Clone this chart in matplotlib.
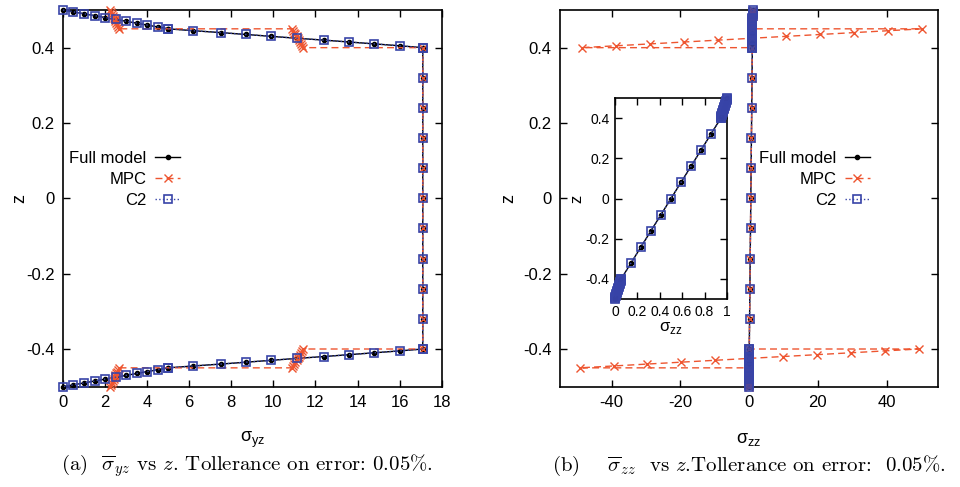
import matplotlib.pyplot as plt

plt.rcParams['font.family'] = ['Liberation Sans', 'DejaVu Sans']
plt.rcParams['axes.unicode_minus'] = False

# z positions of the nodes, layer by layer (top sublayers, core, bottom sublayers)
z_top1 = [0.5, 0.495, 0.49, 0.485, 0.48, 0.475, 0.47, 0.465, 0.46, 0.455, 0.45]
z_top2 = [0.45, 0.445, 0.44, 0.435, 0.43, 0.425, 0.42, 0.415, 0.41, 0.405, 0.4]
z_mid = [0.4, 0.32, 0.24, 0.16, 0.08, 0.0, -0.08, -0.16, -0.24, -0.32, -0.4]
z_bot2 = [-0.4, -0.405, -0.41, -0.415, -0.42, -0.425, -0.43, -0.435, -0.44, -0.445, -0.45]
z_bot1 = [-0.45, -0.455, -0.46, -0.465, -0.47, -0.475, -0.48, -0.485, -0.49, -0.495, -0.5]
z = z_top1 + z_top2 + z_mid + z_bot2 + z_bot1

# sigma_yz
syz_full = ([0.0, 0.5, 1.0, 1.5, 2.0, 2.5, 3.0, 3.5, 4.0, 4.5, 5.0]
            + [5.0, 6.2, 7.5, 8.7, 9.9, 11.1, 12.4, 13.6, 14.8, 16.0, 17.1]
            + [17.1] * 11
            + [17.1, 16.0, 14.8, 13.6, 12.4, 11.1, 9.9, 8.7, 7.5, 6.2, 5.0]
            + [5.0, 4.5, 4.0, 3.5, 3.0, 2.5, 2.0, 1.5, 1.0, 0.5, 0.0])
syz_mpc = ([2.25, 2.29, 2.33, 2.37, 2.41, 2.45, 2.49, 2.53, 2.57, 2.61, 2.65]
           + [10.9, 10.95, 11.0, 11.05, 11.1, 11.15, 11.2, 11.25, 11.3, 11.35, 11.4]
           + [17.1] * 11
           + [11.4, 11.35, 11.3, 11.25, 11.2, 11.15, 11.1, 11.05, 11.0, 10.95, 10.9]
           + [2.65, 2.61, 2.57, 2.53, 2.49, 2.45, 2.41, 2.37, 2.33, 2.29, 2.25])
syz_c2 = list(syz_full)

# sigma_zz
szz_full = ([1.0, 0.998, 0.996, 0.993, 0.99, 0.987, 0.984, 0.981, 0.978, 0.975, 0.972]
            + [0.972, 0.97, 0.967, 0.964, 0.961, 0.958, 0.955, 0.952, 0.95, 0.947, 0.945]
            + [0.945, 0.856, 0.767, 0.678, 0.589, 0.5, 0.411, 0.322, 0.233, 0.144, 0.055]
            + [0.055, 0.053, 0.05, 0.048, 0.045, 0.042, 0.039, 0.036, 0.033, 0.03, 0.028]
            + [0.028, 0.025, 0.022, 0.019, 0.016, 0.013, 0.01, 0.007, 0.004, 0.002, 0.0])
szz_mpc = ([1.0, 0.998, 0.996, 0.993, 0.99, 0.987, 0.984, 0.981, 0.978, 0.975, 0.972]
           + [50.4, 40.5, 30.6, 20.7, 10.8, 0.9, -9.0, -18.9, -28.8, -38.7, -48.6]
           + [0.945, 0.856, 0.767, 0.678, 0.589, 0.5, 0.411, 0.322, 0.233, 0.144, 0.055]
           + [49.3, 39.5, 29.6, 19.7, 9.8, -0.1, -10.0, -19.9, -29.7, -39.4, -49.2]
           + [0.028, 0.025, 0.022, 0.019, 0.016, 0.013, 0.01, 0.007, 0.004, 0.002, 0.0])
szz_c2 = list(szz_full)

labels = ['Full model', 'MPC', 'C2']
z_ticks = [-0.4, -0.2, 0, 0.2, 0.4]
z_ticklabels = ['-0.4', '-0.2', '0', '0.2', '0.4']
syz_ticks = [0, 2, 4, 6, 8, 10, 12, 14, 16, 18]
szz_ticks = [-40, -20, 0, 20, 40]
inset_ticks = [0, 0.2, 0.4, 0.6, 0.8, 1]
inset_ticklabels = ['0', '0.2', '0.4', '0.6', '0.8', '1']

RED = '#ee5530'
BLUE = '#3844a8'

full_kw = dict(color='black', lw=1.0, marker='o', ms=3, zorder=3, clip_on=False)
mpc_kw = dict(color=RED, lw=1.0, dashes=(5, 3), marker='x', ms=5.5, mew=1.0, zorder=4, clip_on=False)
c2_kw = dict(color=BLUE, lw=1.0, ls=':', marker='s', ms=6, mew=1.2, mfc='none',
             zorder=5, clip_on=False)


def style_axes(ax, size=12, pad=6):
    for s in ax.spines.values():
        s.set_linewidth(1.2)
    ax.tick_params(direction='in', top=True, right=True, length=5, width=1,
                   labelsize=size, pad=pad)


def right_align(leg):
    # gnuplot style key: text right-aligned against the sample
    for col in leg._legend_handle_box.get_children():
        col.align = 'right'


fig = plt.figure(figsize=(9.6, 4.87), dpi=100)
ax1 = fig.add_axes([0.0656, 0.206, 0.3945, 0.7735])
ax2 = fig.add_axes([0.5833, 0.206, 0.394, 0.7735])
axin = fig.add_axes([0.6406, 0.386, 0.1167, 0.4127])

# (a) sigma_yz
ax1.plot(syz_full, z, label=labels[0], **full_kw)
ax1.plot(syz_mpc, z, label=labels[1], **mpc_kw)
ax1.plot(syz_c2, z, label=labels[2], **c2_kw)
ax1.set_xlim(0, 18)
ax1.set_ylim(-0.5, 0.5)
ax1.set_xticks(syz_ticks)
ax1.set_yticks(z_ticks)
ax1.set_yticklabels(z_ticklabels)
style_axes(ax1)
ax1.set_xlabel(r'σ$_{\mathregular{yz}}$', fontsize=13)
ax1.xaxis.label.set_va('center')
ax1.xaxis.set_label_coords(0.5, -0.14)
ax1.set_ylabel('z', fontsize=13)
ax1.yaxis.label.set_va('center')
ax1.yaxis.set_label_coords(-0.115, 0.5)

# (b) sigma_zz
ax2.plot(szz_full, z, label=labels[0], **full_kw)
ax2.plot(szz_mpc, z, label=labels[1], **mpc_kw)
ax2.plot(szz_c2, z, label=labels[2], **c2_kw)
ax2.set_xlim(-55, 55)
ax2.set_ylim(-0.5, 0.5)
ax2.set_xticks(szz_ticks)
ax2.set_yticks(z_ticks)
ax2.set_yticklabels(z_ticklabels)
style_axes(ax2)
ax2.set_xlabel(r'σ$_{\mathregular{zz}}$', fontsize=13)
ax2.xaxis.label.set_va('center')
ax2.xaxis.set_label_coords(0.5, -0.14)
ax2.set_ylabel('z', fontsize=13)
ax2.yaxis.label.set_va('center')
ax2.yaxis.set_label_coords(-0.135, 0.5)

# inset: zoom on the thin range of sigma_zz
axin.plot(szz_full, z, **full_kw)
axin.plot(szz_c2, z, **c2_kw)
axin.set_xlim(0, 1)
axin.set_ylim(-0.5, 0.5)
axin.set_xticks(inset_ticks)
axin.set_xticklabels(inset_ticklabels)
axin.set_yticks(z_ticks)
axin.set_yticklabels(z_ticklabels)
style_axes(axin, size=10, pad=4)
axin.set_xlabel(r'σ$_{\mathregular{zz}}$', fontsize=12)
axin.xaxis.label.set_va('center')
axin.xaxis.set_label_coords(0.5, -0.144)
axin.set_ylabel('z', fontsize=12)
axin.yaxis.label.set_va('center')
axin.yaxis.set_label_coords(-0.339, 0.5)

leg_kw = dict(loc='center right', frameon=False, markerfirst=False, fontsize=12,
              handlelength=1.5, handletextpad=0.5, labelspacing=0.35,
              borderpad=0, borderaxespad=0)
leg1 = ax1.legend(bbox_to_anchor=(0.309, 0.5506), **leg_kw)
leg2 = ax2.legend(bbox_to_anchor=(0.8195, 0.5506), **leg_kw)
right_align(leg1)
right_align(leg2)

cap_kw = dict(ha='center', va='center', fontsize=15, family='cmr10', math_fontfamily='cm')
fig.text(247 / 960, 0.043, r'(a)  $\overline{\sigma}_{yz}$ vs $z$. Tollerance on error: 0.05%.', **cap_kw)
fig.text(749 / 960, 0.043, r'(b)    $\overline{\sigma}_{zz}$  vs $z$.Tollerance on error:  0.05%.', **cap_kw)

fig.savefig('out.png', dpi=100)
